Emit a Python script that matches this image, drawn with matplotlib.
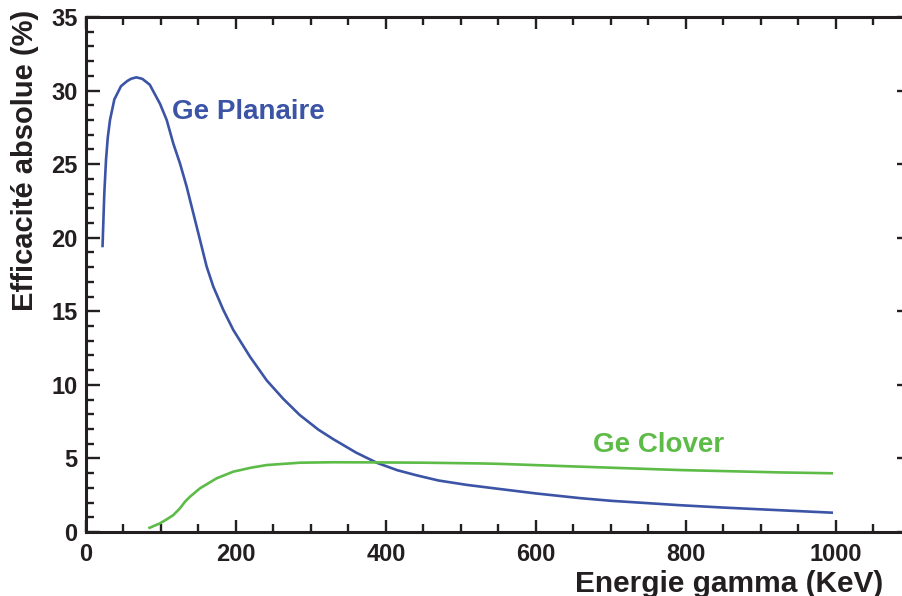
import numpy as np
import matplotlib
matplotlib.use('Agg')
import matplotlib.pyplot as plt
from matplotlib.ticker import MultipleLocator

# Ge Planaire (blue) efficiency curve
planaire_e = [22, 24.4, 26.7, 29, 32, 37.8, 46.7, 55, 60, 67, 75, 85, 98.7, 107.6,
              116.4, 125.3, 134.2, 143.1, 152, 160.9, 169.8, 183.1, 196.4, 218.7, 241,
              263, 285, 310, 330, 360, 388, 415, 441, 470, 508, 552, 600, 659, 700, 792,
              850, 925, 996]
planaire_eff = [19.35, 23.0, 25.3, 26.8, 28.0, 29.4, 30.3, 30.65, 30.8, 30.9, 30.8, 30.4,
                29.1, 28.0, 26.4, 25.05, 23.47, 21.66, 19.85, 18.03, 16.67, 15.09, 13.73,
                11.91, 10.3, 9.05, 7.95, 6.95, 6.3, 5.4, 4.7, 4.2, 3.85, 3.5, 3.2, 2.92,
                2.62, 2.3, 2.12, 1.82, 1.66, 1.48, 1.31]

# Ge Clover (green)
clover_e = [83.1, 98.7, 107.6, 116.4, 125.3, 132, 138.7, 152, 174.2, 196.4, 220, 240.9,
            285.3, 330, 387, 450, 525, 552, 659, 792, 925, 996]
clover_eff = [0.25, 0.59, 0.86, 1.15, 1.61, 2.06, 2.4, 2.97, 3.65, 4.1, 4.37, 4.55, 4.71,
              4.74, 4.73, 4.71, 4.66, 4.63, 4.44, 4.21, 4.05, 3.99]

blue = '#3b54a5'
green = '#5dbb47'
dark = '#231f20'

plt.rcParams['font.family'] = ['Liberation Sans', 'DejaVu Sans']
plt.rcParams['font.weight'] = 'bold'

fig = plt.figure(figsize=(9.03, 5.96), dpi=100)
ax = fig.add_axes([86/903, 64/596, 825/903, 515/596])

ax.plot(planaire_e, planaire_eff, color=blue, lw=1.9, solid_capstyle='butt')
ax.plot(clover_e, clover_eff, color=green, lw=1.9, solid_capstyle='butt')

ax.set_xlim(0, 1100)
ax.set_ylim(0, 35)
ax.xaxis.set_major_locator(MultipleLocator(200))
ax.xaxis.set_minor_locator(MultipleLocator(50))
ax.yaxis.set_major_locator(MultipleLocator(5))
ax.yaxis.set_minor_locator(MultipleLocator(1))

for s in ax.spines.values():
    s.set_linewidth(2.2)
    s.set_color(dark)

ax.tick_params(which='both', direction='in', top=True, right=True, color=dark,
               labelcolor=dark, labelsize=17, width=1.7)
ax.tick_params(axis='x', which='major', length=8.5, pad=8)
ax.tick_params(axis='x', which='minor', length=5.5)
ax.tick_params(axis='y', which='major', length=10, pad=6)
ax.tick_params(axis='y', which='minor', length=5.8)
for lab in ax.get_xticklabels() + ax.get_yticklabels():
    lab.set_fontweight('bold')

ax.text(114.3, 28.1, 'Ge Planaire', color=blue, fontsize=20, fontweight='bold',
        ha='left', va='baseline')
ax.text(676, 5.46, 'Ge Clover', color=green, fontsize=20, fontweight='bold',
        ha='left', va='baseline')

fig.text(883/903, 1 - 591.7/596, 'Energie gamma (KeV)', color=dark, fontsize=21.5,
         fontweight='bold', ha='right', va='baseline')
fig.text(33.3/903, 1 - 10/596, 'Efficacité absolue (%)', color=dark, fontsize=21,
         fontweight='bold', ha='right', va='baseline', rotation=90,
         rotation_mode='anchor')

fig.savefig('out.png', dpi=100)
